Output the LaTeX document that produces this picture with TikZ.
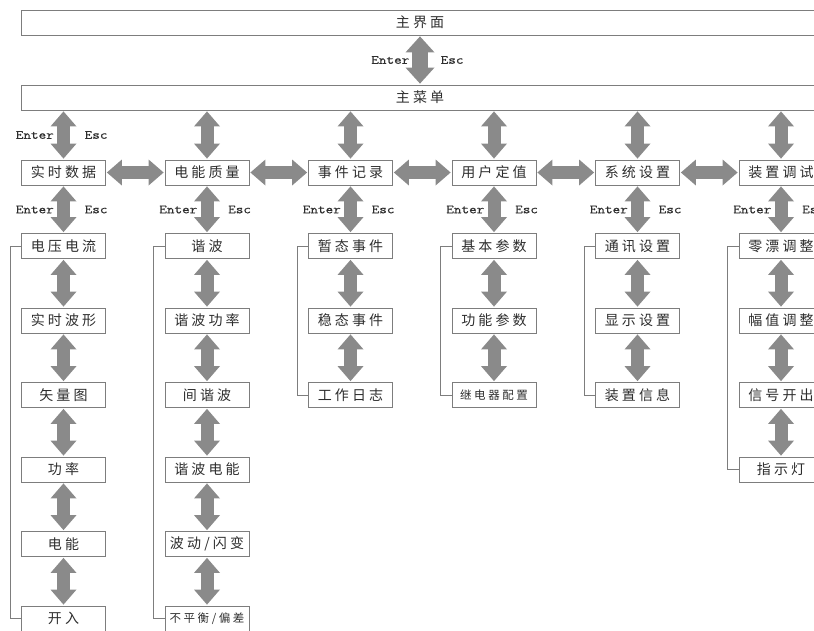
\documentclass[tikz,border=0pt]{standalone}
\usepackage{fontspec}
\setmainfont{Noto Sans CJK SC}
\setmonofont[FakeStretch=1.18,FakeBold=0.5]{Latin Modern Mono}
\usetikzlibrary{arrows.meta}

\definecolor{edgegray}{RGB}{125,125,125}
\definecolor{arrgray}{RGB}{138,138,138}
\definecolor{txtgray}{RGB}{45,45,45}

\tikzset{
  box/.style={rectangle,draw=edgegray,line width=.8pt,minimum width=84pt,minimum height=25pt,
    inner sep=0pt,text=txtgray,font=\fontsize{14}{16}\selectfont},
  small/.style={font=\fontsize{11.5}{13}\selectfont},
  fat/.style={line width=13pt,draw=arrgray,
    {Triangle[length=15pt,width=26pt,line width=0pt]}-{Triangle[length=15pt,width=26pt,line width=0pt]},
    shorten <=1pt,shorten >=1pt},
  bigfat/.style={fat,line width=16pt,
    {Triangle[length=16pt,width=29pt,line width=0pt]}-{Triangle[length=16pt,width=29pt,line width=0pt]}},
  key/.style={inner sep=0pt,text=txtgray,font=\ttfamily\fontsize{12.5}{14}\selectfont},
  bracket/.style={draw=edgegray,line width=.8pt}
}

\begin{document}
\begin{tikzpicture}[x=1pt,y=-1pt]
    \useasboundingbox (0,0) rectangle (814,630);
    % top level
    \node (main) [box,minimum width=798pt] at (420,22.5) {主 界 面};
    \node (menu) [box,minimum width=798pt] at (420,97.5) {主 菜 单};
    \draw [bigfat] (main) -- (menu);
    \node (e0) [key,anchor=east] at (409.5,60) {Enter};
    \node (x0) [key,anchor=west] at (440.5,60) {Esc};
    % menu entries
    \node (1) [box] at (63.5,172.5) {实 时 数 据};
    \node (2) [box] at (207,172.5) {电 能 质 量};
    \node (3) [box] at (350.5,172.5) {事 件 记 录};
    \node (4) [box] at (494,172.5) {用 户 定 值};
    \node (5) [box] at (637.5,172.5) {系 统 设 置};
    \node (6) [box] at (781,172.5) {装 置 调 试};
    \draw [fat] (menu.south -| 1) -- (1);
    \draw [fat] (menu.south -| 2) -- (2);
    \draw [fat] (menu.south -| 3) -- (3);
    \draw [fat] (menu.south -| 4) -- (4);
    \draw [fat] (menu.south -| 5) -- (5);
    \draw [fat] (menu.south -| 6) -- (6);
    \node (e1) [key,anchor=east] at (54,135) {Enter};
    \node (x1) [key,anchor=west] at (84.5,135) {Esc};
    \draw [fat] (1) -- (2);
    \draw [fat] (2) -- (3);
    \draw [fat] (3) -- (4);
    \draw [fat] (4) -- (5);
    \draw [fat] (5) -- (6);
    % 实时数据
    \node (11) [box] at (63.5,246) {电 压 电 流};
    \node (12) [box] at (63.5,320.5) {实 时 波 形};
    \node (13) [box] at (63.5,395) {矢 量 图};
    \node (14) [box] at (63.5,469.5) {功 率};
    \node (15) [box] at (63.5,544) {电 能};
    \node (16) [box] at (63.5,618.5) {开 入};
    % 电能质量
    \node (21) [box] at (207,246) {谐 波};
    \node (22) [box] at (207,320.5) {谐 波 功 率};
    \node (23) [box] at (207,395) {间 谐 波};
    \node (24) [box] at (207,469.5) {谐 波 电 能};
    \node (25) [box] at (207,544) {波 动 / 闪 变};
    \node (26) [box,small] at (207,618.5) {不 平 衡 / 偏 差};
    % 事件记录
    \node (31) [box] at (350.5,246) {暂 态 事 件};
    \node (32) [box] at (350.5,320.5) {稳 态 事 件};
    \node (33) [box] at (350.5,395) {工 作 日 志};
    % 用户定值
    \node (41) [box] at (494,246) {基 本 参 数};
    \node (42) [box] at (494,320.5) {功 能 参 数};
    \node (43) [box,small] at (494,395) {继 电 器 配 置};
    % 系统设置
    \node (51) [box] at (637.5,246) {通 讯 设 置};
    \node (52) [box] at (637.5,320.5) {显 示 设 置};
    \node (53) [box] at (637.5,395) {装 置 信 息};
    % 装置调试
    \node (61) [box] at (781,246) {零 漂 调 整};
    \node (62) [box] at (781,320.5) {幅 值 调 整};
    \node (63) [box] at (781,395) {信 号 开 出};
    \node (64) [box] at (781,469.5) {指 示 灯};
    % Enter / Esc into the sub menus
    \draw [fat] (1) -- (11);
    \draw [fat] (2) -- (21);
    \draw [fat] (3) -- (31);
    \draw [fat] (4) -- (41);
    \draw [fat] (5) -- (51);
    \draw [fat] (6) -- (61);
    \node (e11) [key,anchor=east] at (54,209.5) {Enter};
    \node (x11) [key,anchor=west] at (84.5,209.5) {Esc};
    \node (e21) [key,anchor=east] at (197.5,209.5) {Enter};
    \node (x21) [key,anchor=west] at (228,209.5) {Esc};
    \node (e31) [key,anchor=east] at (341,209.5) {Enter};
    \node (x31) [key,anchor=west] at (371.5,209.5) {Esc};
    \node (e41) [key,anchor=east] at (484.5,209.5) {Enter};
    \node (x41) [key,anchor=west] at (515,209.5) {Esc};
    \node (e51) [key,anchor=east] at (628,209.5) {Enter};
    \node (x51) [key,anchor=west] at (658.5,209.5) {Esc};
    \node (e61) [key,anchor=east] at (771.5,209.5) {Enter};
    \node (x61) [key,anchor=west] at (802,209.5) {Esc};
    % steps inside the sub menus
    \draw [fat] (11) -- (12);
    \draw [fat] (12) -- (13);
    \draw [fat] (13) -- (14);
    \draw [fat] (14) -- (15);
    \draw [fat] (15) -- (16);
    \draw [fat] (21) -- (22);
    \draw [fat] (22) -- (23);
    \draw [fat] (23) -- (24);
    \draw [fat] (24) -- (25);
    \draw [fat] (25) -- (26);
    \draw [fat] (31) -- (32);
    \draw [fat] (32) -- (33);
    \draw [fat] (41) -- (42);
    \draw [fat] (42) -- (43);
    \draw [fat] (51) -- (52);
    \draw [fat] (52) -- (53);
    \draw [fat] (61) -- (62);
    \draw [fat] (62) -- (63);
    \draw [fat] (63) -- (64);
    % return lines
    \draw [bracket] (11.west) -- ++(-11,0) |- (16.west);
    \draw [bracket] (21.west) -- ++(-11,0) |- (26.west);
    \draw [bracket] (31.west) -- ++(-11,0) |- (33.west);
    \draw [bracket] (41.west) -- ++(-11,0) |- (43.west);
    \draw [bracket] (51.west) -- ++(-11,0) |- (53.west);
    \draw [bracket] (61.west) -- ++(-11,0) |- (64.west);
\end{tikzpicture}
\end{document}
